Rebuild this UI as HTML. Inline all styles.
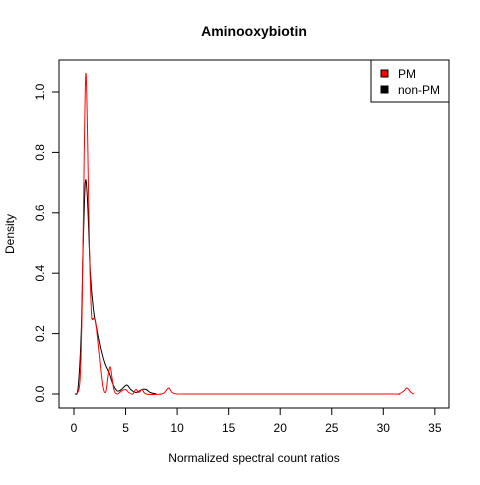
<!DOCTYPE html>
<html><head><meta charset="utf-8"><style>
body{margin:0;background:#fff}
text{font-family:"Liberation Sans",Arial,sans-serif;fill:#000}
</style></head><body>
<svg width="480" height="480" xmlns="http://www.w3.org/2000/svg">
<rect width="480" height="480" fill="#fff"/>
<text x="254" y="36" text-anchor="middle" font-size="14" font-weight="bold">Aminooxybiotin</text>
<rect x="59" y="60" width="390" height="348" fill="none" stroke="#000"/>
<g id="xaxis"></g>
<g id="yaxis"></g>
<text x="254" y="462" text-anchor="middle" font-size="12">Normalized spectral count ratios</text>
<text transform="translate(14,234) rotate(-90)" text-anchor="middle" font-size="12">Density</text>
<g id="series"></g>
<g>
<rect x="371" y="60" width="78" height="42" fill="#fff" stroke="#000"/>
<rect x="381" y="70" width="7" height="7" fill="#f00" stroke="#000"/>
<text x="398" y="78" font-size="12">PM</text>
<rect x="381" y="86" width="7" height="7" fill="#000" stroke="#000"/>
<text x="398" y="94" font-size="12">non-PM</text>
</g>
</svg>
<script>
const xTicks=[0,5,10,15,20,25,30,35];
const yTicks=[0,0.2,0.4,0.6,0.8,1.0];
const yTickLabels=["0.0","0.2","0.4","0.6","0.8","1.0"];
const pmX=[0.3,0.6,0.8,1.0,1.15,1.3,1.5,1.7,1.9,2.1,2.4,2.7,2.9,3.1,3.3,3.5,3.7,3.9,4.2,4.6,5.0,5.3,5.7,6.0,6.3,6.6,7.0,8.5,8.9,9.2,9.5,10,10.5,15,20,25,31,31.5,32,32.3,32.7,33];
const pmY=[0,0.05,0.3,0.8,1.06,0.9,0.5,0.27,0.25,0.24,0.15,0.05,0.01,0.01,0.06,0.09,0.05,0.01,0,0.01,0.015,0.005,0,0.015,0.005,0.015,0,0,0.01,0.02,0.005,0,0,0,0,0,0,0,0.01,0.02,0.005,0];
const nonpmX=[0.1,0.4,0.7,0.9,1.1,1.3,1.6,1.9,2.2,2.6,3.0,3.4,3.8,4.2,4.6,5.1,5.5,6.0,6.6,7.0,7.4,8];
const nonpmY=[0,0.02,0.2,0.5,0.7,0.65,0.4,0.28,0.22,0.15,0.1,0.07,0.03,0.01,0.015,0.03,0.015,0.005,0.015,0.015,0.005,0];
const NS="http://www.w3.org/2000/svg";
const sx=v=>74+10.31*v, sy=v=>394-302*v;
function mk(t,a,p){const e=document.createElementNS(NS,t);for(const k in a)e.setAttribute(k,a[k]);p.appendChild(e);return e;}
const xa=document.getElementById('xaxis');
mk('line',{x1:sx(0),x2:sx(35),y1:408,y2:408,stroke:'#000'},xa);
xTicks.forEach(t=>{
  const l=mk('line',{x1:sx(t),x2:sx(t),y1:408,y2:415,stroke:'#000'},xa);
  
  
  const tx=mk('text',{x:sx(t),y:432,'text-anchor':'middle','font-size':12},xa);
  tx.textContent=t;
  
  
});
const ya=document.getElementById('yaxis');
mk('line',{x1:59,x2:59,y1:sy(0),y2:sy(1),stroke:'#000'},ya);
yTicks.forEach((t,i)=>{
  const l=mk('line',{x1:52,x2:59,y1:sy(t),y2:sy(t),stroke:'#000'},ya);
  
  
  const tx=mk('text',{transform:`translate(44,${sy(t)}) rotate(-90)`,'text-anchor':'middle','font-size':12},ya);
  tx.textContent=yTickLabels[i];
  
  
});
function smooth(xs,ys){
  const p=xs.map((x,i)=>[sx(x),sy(ys[i])]);
  let d=`M${p[0][0]},${p[0][1]}`;
  for(let i=0;i<p.length-1;i++){
    const p0=p[i-1]||p[i],p1=p[i],p2=p[i+1],p3=p[i+2]||p2;
    const c1=[p1[0]+(p2[0]-p0[0])/6,p1[1]+(p2[1]-p0[1])/6];
    const c2=[p2[0]-(p3[0]-p1[0])/6,p2[1]-(p3[1]-p1[1])/6];
    d+=`C${c1[0]},${c1[1]} ${c2[0]},${c2[1]} ${p2[0]},${p2[1]}`;
  }
  return d;
}
const sg=document.getElementById('series');
const a=mk('path',{d:smooth(nonpmX,nonpmY),fill:'none',stroke:'#000','stroke-width':1},sg);


const b=mk('path',{d:smooth(pmX,pmY),fill:'none',stroke:'#f00','stroke-width':1},sg);


</script>
</body></html>
